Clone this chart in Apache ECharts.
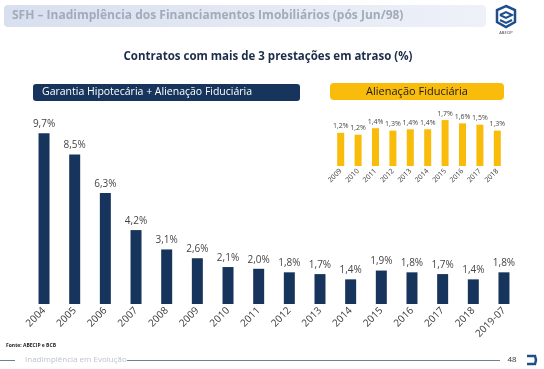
<!DOCTYPE html>
<html>
<head>
<meta charset="utf-8">
<script src="https://cdn.jsdelivr.net/npm/echarts@6/dist/echarts.min.js"></script>
<style>
html,body{margin:0;padding:0;background:#fff;}
#c{width:544px;height:369px;}
</style>
</head>
<body>
<div id="c"></div>
<script>
// Main chart: Garantia Hipotecária + Alienação Fiduciária
const mainCategories = ['2004','2005','2006','2007','2008','2009','2010','2011','2012','2013','2014','2015','2016','2017','2018','2019-07'];
const mainValues = [9.7, 8.5, 6.3, 4.2, 3.1, 2.6, 2.1, 2.0, 1.8, 1.7, 1.4, 1.9, 1.8, 1.7, 1.4, 1.8];
// Inset chart: Alienação Fiduciária
const insetCategories = ['2009','2010','2011','2012','2013','2014','2015','2016','2017','2018'];
const insetValues = [1.23, 1.16, 1.40, 1.31, 1.36, 1.36, 1.70, 1.58, 1.53, 1.31];

const titleText = 'SFH – Inadimplência dos Financiamentos Imobiliários (pós Jun/98)';
const subtitleText = 'Contratos com mais de 3 prestações em atraso (%)';
const mainLegend = 'Garantia Hipotecária + Alienação Fiduciária';
const insetLegend = 'Alienação Fiduciária';
const sourceText = 'Fonte: ABECIP e BCB';
const footerText = 'Inadimplência em Evolução';
const pageNumber = '48';

const NAVY = '#17355c';
const YELLOW = '#f9bc0a';
const FONT = '"Open Sans", "Noto Sans", sans-serif';
const fmt = v => v.toFixed(1).replace('.', ',') + '%';

const chart = echarts.init(document.getElementById('c'), null, {renderer: 'canvas'});
chart.setOption({
  animation: false,
  backgroundColor: '#ffffff',
  textStyle: {fontFamily: FONT},
  grid: [
    {left: 28.7, width: 490.6, top: 128, height: 176, containLabel: false},
    {left: 332, width: 174, top: 112, height: 54, containLabel: false}
  ],
  xAxis: [
    {type: 'category', gridIndex: 0, data: mainCategories,
     axisLine: {show: false}, axisTick: {show: false},
     axisLabel: {rotate: 45, fontSize: 10, color: '#3a3a3a', margin: 5, interval: 0, fontFamily: FONT}},
    {type: 'category', gridIndex: 1, data: insetCategories,
     axisLine: {show: false}, axisTick: {show: false},
     axisLabel: {rotate: 45, fontSize: 7, color: '#3a3a3a', margin: 4, interval: 0, fontFamily: FONT}}
  ],
  yAxis: [
    {type: 'value', gridIndex: 0, min: 0, max: 10, show: false, splitLine: {show: false}},
    {type: 'value', gridIndex: 1, min: 0, max: 2, show: false, splitLine: {show: false}}
  ],
  series: [
    {type: 'bar', xAxisIndex: 0, yAxisIndex: 0, data: mainValues, barWidth: 11,
     itemStyle: {color: NAVY},
     label: {show: true, position: 'top', distance: 4, fontSize: 10, color: '#454545',
             fontFamily: FONT, formatter: p => fmt(p.value)}},
    {type: 'bar', xAxisIndex: 1, yAxisIndex: 1, data: insetValues, barWidth: 7,
     itemStyle: {color: YELLOW},
     label: {show: true, position: 'top', distance: 3, fontSize: 7, color: '#454545',
             fontFamily: FONT, formatter: p => fmt(p.value)}}
  ],
  graphic: [
    {type: 'rect', shape: {x: 4, y: 5, width: 482, height: 22, r: 4},
     style: {fill: new echarts.graphic.LinearGradient(0, 0, 1, 0, [
       {offset: 0, color: '#d8dfee'}, {offset: 1, color: '#eef1f8'}])}},
    {type: 'text', style: {x: 12, y: 16, text: titleText, fontSize: 12, fontWeight: 'bold',
      fill: '#a3abbb', verticalAlign: 'middle', fontFamily: FONT}},
    // logo
    {type: 'polygon', shape: {points: [[506,6],[515,10],[515,22],[506,27],[497,22],[497,10]]},
     style: {fill: 'none', stroke: '#1f4e8c', lineWidth: 2.5}},
    {type: 'polyline', shape: {points: [[500,15],[506,12],[512,15],[506,18],[500,15]]},
     style: {fill: 'none', stroke: '#1f4e8c', lineWidth: 2}},
    {type: 'polyline', shape: {points: [[500,20],[506,23],[512,20]]},
     style: {fill: 'none', stroke: '#1f4e8c', lineWidth: 2}},
    {type: 'text', style: {x: 506, y: 33, text: 'ABECIP', fontSize: 4, fill: '#333',
      align: 'center', verticalAlign: 'middle', fontFamily: FONT}},
    // subtitle
    {type: 'text', style: {x: 268, y: 57, text: subtitleText, fontSize: 11.5, fontWeight: 'bold',
      fill: '#1c2d4a', align: 'center', verticalAlign: 'middle', fontFamily: FONT}},
    // legend boxes
    {type: 'rect', shape: {x: 33, y: 84, width: 267, height: 17, r: 3}, style: {fill: NAVY}},
    {type: 'text', style: {x: 42, y: 92.5, text: mainLegend, fontSize: 10.5, fill: '#ffffff',
      verticalAlign: 'middle', fontFamily: FONT}},
    {type: 'rect', shape: {x: 330, y: 83, width: 174, height: 17, r: 4}, style: {fill: YELLOW}},
    {type: 'text', style: {x: 417, y: 91.5, text: insetLegend, fontSize: 11, fill: '#1a1a1a',
      align: 'center', verticalAlign: 'middle', fontFamily: FONT}},
    // footer
    {type: 'text', style: {x: 6, y: 346, text: sourceText, fontSize: 5, fontWeight: 'bold',
      fill: '#222', verticalAlign: 'middle', fontFamily: FONT}},
    {type: 'line', shape: {x1: 0, y1: 360.5, x2: 15, y2: 360.5}, style: {stroke: '#6e7f96', lineWidth: 1}},
    {type: 'text', style: {x: 25, y: 360, text: footerText, fontSize: 8, fill: '#bcc3ce',
      verticalAlign: 'middle', fontFamily: FONT}},
    {type: 'line', shape: {x1: 127, y1: 360.5, x2: 500, y2: 360.5}, style: {stroke: '#6e7f96', lineWidth: 1}},
    {type: 'text', style: {x: 512, y: 360, text: pageNumber, fontSize: 8, fill: '#333',
      align: 'center', verticalAlign: 'middle', fontFamily: FONT}},
    {type: 'polyline', shape: {points: [[527,356],[535,356],[536,360],[535,364],[527,364]]},
     style: {fill: 'none', stroke: '#1f4e8c', lineWidth: 2.5}}
  ]
});
</script>
</body>
</html>
